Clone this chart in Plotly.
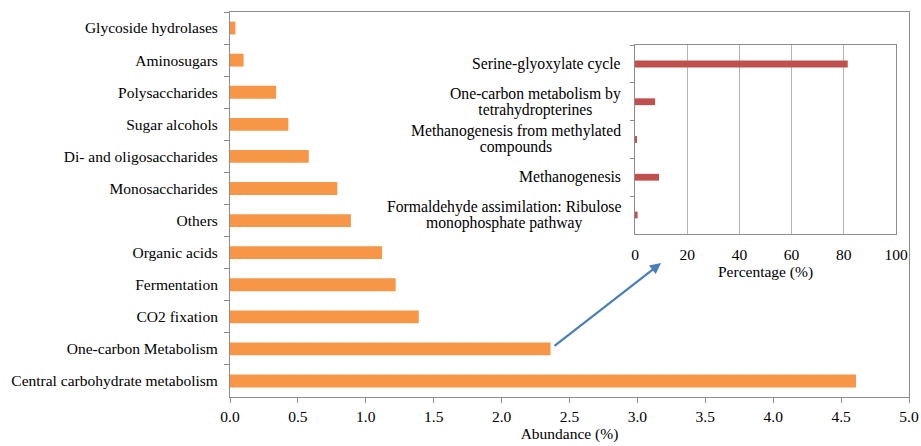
import plotly.graph_objects as go

# Main chart data (top to bottom)
categories = ["Glycoside hydrolases", "Aminosugars", "Polysaccharides", "Sugar alcohols",
              "Di- and oligosaccharides", "Monosaccharides", "Others", "Organic acids",
              "Fermentation", "CO2 fixation", "One-carbon Metabolism",
              "Central carbohydrate metabolism"]
abundance = [0.04, 0.10, 0.34, 0.43, 0.58, 0.79, 0.89, 1.12, 1.22, 1.39, 2.36, 4.61]
main_ticks = [0.0, 0.5, 1.0, 1.5, 2.0, 2.5, 3.0, 3.5, 4.0, 4.5, 5.0]

# Inset data (top to bottom); each label as list of lines
inset_categories = [["Serine-glyoxylate cycle"],
                    ["One-carbon metabolism by", "tetrahydropterines"],
                    ["Methanogenesis from methylated", "compounds"],
                    ["Methanogenesis"],
                    ["Formaldehyde assimilation: Ribulose", "monophosphate pathway"]]
inset_keys = ["c1", "c2", "c3", "c4", "c5"]
percentage = [81.5, 7.7, 0.5, 9.2, 1.0]
inset_ticks = [0, 20, 40, 60, 80, 100]

FONT = "Liberation Serif, Times New Roman, serif"
AXIS = "#8c8c8c"

fig = go.Figure()
fig.add_trace(go.Bar(x=abundance, y=categories, orientation="h",
                     marker=dict(color="#F79646", line=dict(width=0)),
                     width=0.4, xaxis="x", yaxis="y", showlegend=False))
fig.add_trace(go.Bar(x=percentage, y=inset_keys, orientation="h",
                     marker=dict(color="#C0504D", line=dict(width=0)),
                     width=0.18, xaxis="x2", yaxis="y2", showlegend=False))

annotations = []
for key, lines in zip(inset_keys, inset_categories):
    txt = "<br>".join('<span style="font-size:15.7px">%s</span>' % ln for ln in lines)
    annotations.append(dict(x=-0.045, xref="x2 domain", y=key, yref="y2",
                            text=txt, showarrow=False, xanchor="right", align="center",
                            font=dict(family=FONT, size=12.4, color="black")))
# arrow from main bar to inset
annotations.append(dict(x=0.6348, y=0.348, xref="paper", yref="paper",
                        ax=-108, ay=84, axref="pixel", ayref="pixel", text="",
                        showarrow=True, arrowhead=2, arrowsize=1, arrowwidth=2.2,
                        arrowcolor="#4A7EBB"))

fig.update_layout(
    width=921, height=446,
    margin=dict(l=230, r=12, t=12, b=49),
    paper_bgcolor="white", plot_bgcolor="white",
    font=dict(family=FONT, size=15.5, color="black"),
    xaxis=dict(domain=[0, 1], range=[0, 5], tickvals=main_ticks, tickformat=".1f",
               showline=True, linecolor=AXIS, linewidth=1, mirror=True,
               ticks="outside", ticklen=5, tickcolor=AXIS, showgrid=False, zeroline=False,
               title=dict(text="Abundance (%)", standoff=1, font=dict(size=15.5)),
               tickfont=dict(size=15.5), automargin=False),
    yaxis=dict(domain=[0, 1], autorange="reversed", type="category",
               showline=True, linecolor=AXIS, linewidth=1, mirror=True,
               ticks="outside", ticklen=5, tickcolor=AXIS, tickson="boundaries",
               showgrid=False, tickfont=dict(size=15.5), ticklabelstandoff=8,
               automargin=False),
    xaxis2=dict(domain=[0.5965, 0.9809], anchor="y2", range=[0, 100], tickvals=inset_ticks,
                showline=True, linecolor=AXIS, linewidth=1, mirror=True,
                showgrid=True, gridcolor="#b5b5b5", gridwidth=1, zeroline=False,
                ticks="", ticklabelstandoff=6,
                title=dict(text="Percentage (%)", standoff=2, font=dict(size=15.5)),
                tickfont=dict(size=15.5), automargin=False),
    yaxis2=dict(domain=[0.4234, 0.914], anchor="x2", type="category",
                categoryorder="array", categoryarray=inset_keys, autorange="reversed",
                showline=True, linecolor=AXIS, linewidth=1, mirror=True,
                ticks="outside", ticklen=4, tickcolor=AXIS, tickson="boundaries",
                showgrid=False, showticklabels=False, automargin=False),
    annotations=annotations,
)

fig.write_html("out.html", config={"displayModeBar": False},
               post_script="document.body.style.margin='0';document.body.style.overflow='hidden';")
